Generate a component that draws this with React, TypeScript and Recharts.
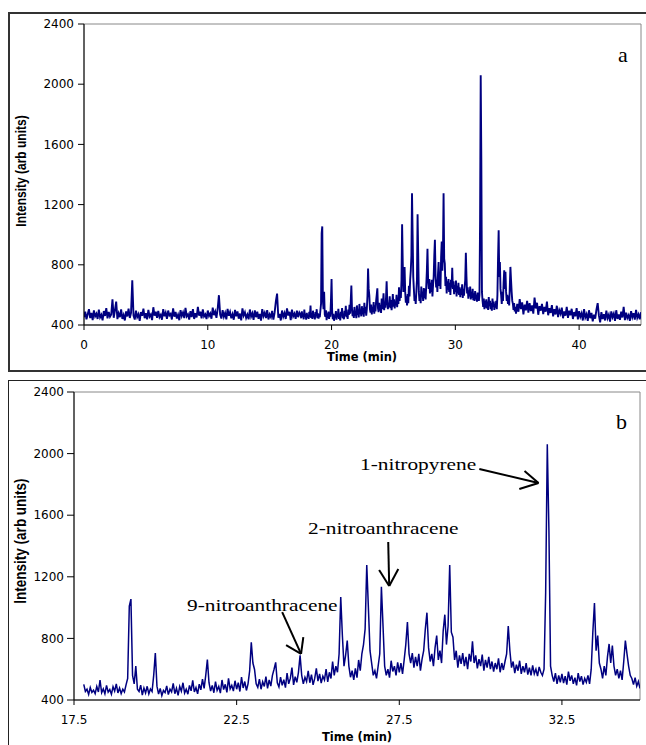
import React from "react";
import {
  Line,
  LineChart,
  ReferenceArea,
  ReferenceLine,
  XAxis,
  YAxis,
} from "recharts";

// intensity, 0.0 .. 17.4 min every 0.1 min
const earlyIntensity = [
  452, 489, 438, 471, 505, 446, 480, 433, 497, 458,
  475, 440, 502, 451, 468, 431, 493, 460, 512, 444,
  486, 455, 470, 571, 448, 498, 555, 439, 477, 452,
  503, 441, 466, 430, 490, 457, 508, 447, 481, 697,
  462, 436, 495, 453, 472, 428, 486, 461, 509, 445,
  479, 438, 500, 456, 470, 433, 518, 462, 488, 447,
  493, 452, 467, 435, 505, 458, 482, 441, 496, 464,
  474, 437, 510, 455, 487, 443, 468, 432, 499, 460,
  483, 446, 514, 458, 471, 436, 492, 453, 505, 440,
  478, 450, 520, 462, 488, 444, 503, 457, 470, 439,
  496, 460, 476, 442, 515, 465, 489, 448, 508, 598,
  470, 443, 498, 455, 480, 437, 507, 461, 486, 445,
  472, 435, 500, 458, 490, 442, 476, 431, 511, 463,
  484, 447, 469, 438, 503, 456, 478, 434, 497, 452,
  488, 441, 474, 429, 506, 459, 481, 446, 499, 437,
  470, 452, 493, 436, 482, 557, 609, 448, 474, 430,
  496, 455, 479, 440, 510, 463, 487, 432, 502, 458,
  476, 441, 495, 452, 483,
];

// intensity, 17.50 .. 34.95 min every 0.05 min
const midIntensity = [
  468, 445, 490, 452, 476, 438, 502, 455, 470, 436, 481, 449, 463, 441, 488, 452, 530, 447, 472, 440,
  495, 451, 468, 437, 486, 458, 505, 446, 478, 442, 470, 452, 498, 540, 1010, 1055, 560, 505, 620, 470,
  455, 497, 432, 478, 446, 489, 440, 472, 455, 560, 705, 490, 438, 475, 428, 462, 448, 492, 435, 470,
  452, 508, 441, 476, 430, 488, 458, 512, 445, 470, 438, 495, 460, 527, 452, 481, 440, 503, 466, 535,
  475, 560, 662, 512, 458, 495, 447, 520, 462, 488, 445, 530, 468, 502, 450, 540, 472, 495, 458, 525,
  470, 512, 455, 548, 478, 520, 462, 505, 590, 775, 640, 598, 505, 482, 536, 470, 518, 488, 552, 475,
  530, 490, 560, 600, 644, 512, 485, 548, 495, 532, 480, 575, 505, 540, 610, 498, 552, 515, 580, 690,
  560, 505, 548, 520, 590, 512, 565, 498, 540, 605, 522, 570, 510, 555, 530, 600, 518, 580, 540, 650,
  560, 620, 580, 700, 1069, 820, 620, 690, 786, 620, 548, 590, 530, 605, 545, 660, 590, 700, 760, 862,
  1276, 1000, 720, 640, 560, 590, 540, 620, 700, 1135, 880, 620, 560, 600, 545, 655, 585, 620, 560, 645,
  580, 640, 570, 660, 760, 906, 700, 640, 705, 610, 680, 620, 700, 590, 665, 720, 860, 967, 740, 650,
  700, 620, 740, 818, 660, 720, 640, 850, 954, 760, 880, 1276, 840, 808, 660, 720, 610, 690, 635, 705,
  620, 680, 600, 700, 650, 781, 640, 690, 605, 665, 620, 695, 590, 660, 610, 680, 600, 650, 585, 640,
  600, 670, 580, 640, 595, 650, 700, 880, 720, 610, 650, 575, 630, 590, 655, 570, 620, 580, 640, 565,
  610, 560, 625, 570, 600, 555, 615, 580, 560, 600, 1100, 2060, 1500, 620, 560, 520, 575, 505, 560, 515,
  570, 510, 555, 500, 585, 525, 560, 505, 545, 495, 575, 520, 555, 500, 540, 515, 560, 505, 600, 840,
  1030, 720, 818, 640, 600, 540, 620, 560, 680, 764, 640, 753, 620, 560, 600, 540, 590, 530, 650, 786,
  700, 620, 560, 540, 500, 545, 490, 520, 475, 505,
];

// intensity, 35.0 .. 45.0 min every 0.1 min
const lateIntensity = [
  540, 488, 572, 505, 550, 470, 535, 498, 560, 482,
  545, 492, 530, 475, 582, 510, 548, 468, 525, 495,
  540, 472, 520, 488, 555, 465, 512, 480, 532, 458,
  505, 470, 528, 452, 498, 475, 515, 445, 490, 462,
  520, 448, 495, 465, 508, 440, 486, 458, 512, 437,
  492, 455, 478, 430, 505, 450, 472, 428, 498, 445,
  480, 425, 468, 442, 502, 545, 462, 418, 485, 440,
  472, 430, 495, 445, 468, 422, 490, 452, 475, 428,
  498, 440, 470, 435, 488, 450, 520, 432, 482, 446,
  465, 428, 492, 452, 478, 436, 500, 448, 470, 438,
  485,
];

const yTicks = [400, 800, 1200, 1600, 2000, 2400];
const xTicksA = [0, 10, 20, 30, 40];
const xTicksB = [17.5, 22.5, 27.5, 32.5];

const labels = [
  { text: "1-nitropyrene", left: 360, top: 453 },
  { text: "2-nitroanthracene", left: 308, top: 517 },
  { text: "9-nitroanthracene", left: 187, top: 594 },
];

// arrows in panel b, [time, intensity] of start, tip, wing 1, wing 2
const arrows = [
  [[29.96, 1900], [31.78, 1809], [31.35, 1887], [31.19, 1770]],
  [[27.16, 1426], [27.19, 1140], [26.88, 1244], [27.47, 1251]],
  [[23.9, 971], [24.48, 699], [24.02, 757], [24.55, 809]],
];

const data = [
  ...earlyIntensity.map((v, i) => ({ t: +(i * 0.1).toFixed(2), v })),
  ...midIntensity.map((v, i) => ({ t: +(17.5 + i * 0.05).toFixed(2), v })),
  ...lateIntensity.map((v, i) => ({ t: +(35 + i * 0.1).toFixed(2), v })),
];
const dataB = data.filter((d) => d.t >= 17.8 && d.t <= 34.9);

const navy = "#000080";
const tickFont = { fill: "#000", fontSize: 12, fontFamily: "DejaVu Sans" };

const abs = (left: number, top: number): React.CSSProperties => ({
  position: "absolute",
  left,
  top,
});

const AxisTitle = ({ x, y, text }: { x: number; y: number; text: string }) => (
  <div
    style={{
      ...abs(x - 60, y - 8),
      width: 120,
      textAlign: "center",
      font: "bold 11.5px 'DejaVu Sans'",
      lineHeight: "16px",
    }}
  >
    {text}
  </div>
);

const YTitle = ({ x, y, size }: { x: number; y: number; size: number }) => (
  <div
    style={{
      ...abs(x - 80, y - 8),
      width: 160,
      textAlign: "center",
      font: `bold ${size}px 'Liberation Sans'`,
      lineHeight: "16px",
      transform: "rotate(-90deg) scaleY(1.2)",
      whiteSpace: "nowrap",
    }}
  >
    Intensity (arb units)
  </div>
);

export default function App() {
  return (
    <div
      style={{
        position: "absolute",
        left: 0,
        top: 0,
        width: 646,
        height: 745,
        overflow: "hidden",
        background: "#fff",
      }}
    >
      <div style={{ ...abs(8, 12), width: 640, height: 356, border: "2px solid #333" }} />
      <div style={{ ...abs(8, 380), width: 640, height: 380, border: "1px solid #222" }} />

      <div style={abs(0, 0)}>
        <LineChart width={646} height={370} data={data} margin={{ top: 24, right: 5, bottom: 5, left: 0 }}>
          <ReferenceArea x1={0} x2={45} y1={400} y2={2400} fill="none" stroke="#888" />
          <XAxis
            dataKey="t"
            type="number"
            domain={[0, 45]}
            ticks={xTicksA}
            allowDataOverflow
            height={40}
            tickSize={5}
            tickMargin={10}
            tick={tickFont}
            stroke="#000"
          />
          <YAxis
            type="number"
            domain={[400, 2400]}
            ticks={yTicks}
            width={84}
            tickSize={6}
            tickMargin={4}
            tick={tickFont}
            stroke="#000"
          />
          <Line type="linear" dataKey="v" stroke={navy} strokeWidth={1.9} strokeLinejoin="miter" dot={false} isAnimationActive={false} />
        </LineChart>
      </div>

      <div style={abs(0, 380)}>
        <LineChart width={646} height={365} data={dataB} margin={{ top: 12, right: 6, bottom: 5, left: 0 }}>
          <ReferenceArea x1={17.5} x2={34.9} y1={400} y2={2400} fill="none" stroke="#888" />
          <XAxis
            dataKey="t"
            type="number"
            domain={[17.5, 34.9]}
            ticks={xTicksB}
            allowDataOverflow
            height={40}
            tickSize={5}
            tickMargin={10}
            tick={tickFont}
            tickFormatter={(v: number) => v.toFixed(1)}
            stroke="#000"
          />
          <YAxis
            type="number"
            domain={[400, 2400]}
            ticks={yTicks}
            width={74}
            tickSize={7}
            tickMargin={3}
            tick={tickFont}
            stroke="#000"
          />
          <Line type="linear" dataKey="v" stroke={navy} strokeWidth={1.5} dot={false} isAnimationActive={false} />
          {arrows.map((a, i) =>
            [0, 2, 3].map((k) => (
              <ReferenceLine
                key={`${i}-${k}`}
                segment={[
                  { x: a[k][0], y: a[k][1] },
                  { x: a[1][0], y: a[1][1] },
                ]}
                stroke="#000"
                strokeWidth={2}
              />
            ))
          )}
        </LineChart>
      </div>

      <YTitle x={21} y={171} size={12} />
      <YTitle x={21} y={541} size={13.5} />
      <AxisTitle x={362} y={357} text="Time (min)" />
      <AxisTitle x={357} y={737} text="Time (min)" />

      <div style={{ ...abs(618, 42), font: "22px 'Liberation Serif'" }}>a</div>
      <div style={{ ...abs(616, 409), font: "22px 'Liberation Serif'" }}>b</div>

      {labels.map((l) => (
        <div
          key={l.text}
          style={{
            ...abs(l.left, l.top),
            font: "17.5px 'Liberation Serif'",
            lineHeight: "22px",
            whiteSpace: "nowrap",
            transform: "scaleX(1.22)",
            transformOrigin: "left",
          }}
        >
          {l.text}
        </div>
      ))}
    </div>
  );
}
